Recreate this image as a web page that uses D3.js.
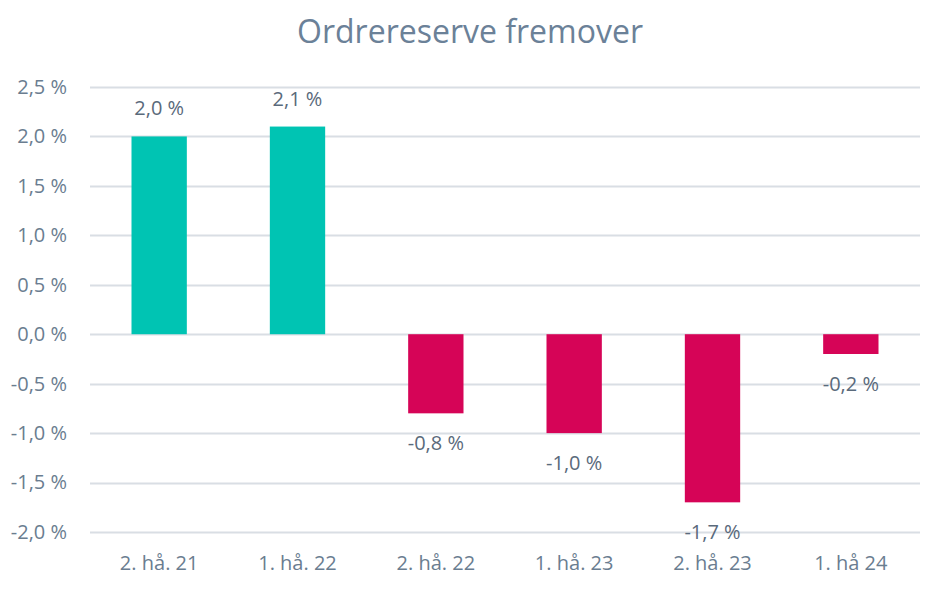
<!DOCTYPE html>
<html>
<head>
<meta charset="utf-8">
<script src="https://cdn.jsdelivr.net/npm/d3@7"></script>
<style>
  body { margin: 0; background: #fff; }
  text { font-family: "Open Sans", "Noto Sans", sans-serif; }
</style>
</head>
<body>
<div id="chart"></div>
<script>
// Chart data
const categories = ["2. hå. 21", "1. hå. 22", "2. hå. 22", "1. hå. 23", "2. hå. 23", "1. hå 24"];
const values = [2.0, 2.1, -0.8, -1.0, -1.7, -0.2];
const yTicks = [-2.0, -1.5, -1.0, -0.5, 0.0, 0.5, 1.0, 1.5, 2.0, 2.5];

const width = 930, height = 595;
const margin = { top: 87, right: 10, bottom: 63, left: 90 };

const svg = d3.select("#chart")
    .append("svg")
    .attr("width", width)
    .attr("height", height);

const fmt = v => d3.format(".1f")(v).replace(".", ",").replace("−", "-") + " %";

const x = d3.scaleBand()
    .domain(categories)
    .range([margin.left, width - margin.right])
    .paddingInner(0.6)
    .paddingOuter(0.3);

const y = d3.scaleLinear()
    .domain([-2.0, 2.5])
    .range([height - margin.bottom, margin.top]);

// Title
svg.append("text")
    .attr("x", 470)
    .attr("y", 43)
    .attr("text-anchor", "middle")
    .style("font-size", "32px")
    .style("fill", "#6B8198")
    .text("Ordrereserve fremover");

// Gridlines
svg.append("g")
    .selectAll("line")
    .data(yTicks)
    .join("line")
    .attr("x1", margin.left)
    .attr("x2", width - margin.right)
    .attr("y1", d => Math.round(y(d)) + 0.5)
    .attr("y2", d => Math.round(y(d)) + 0.5)
    .attr("stroke", "#D9DEE4")
    .attr("stroke-width", 2);

// Y axis
const yAxis = d3.axisLeft(y).tickValues(yTicks).tickFormat(fmt).tickSize(0).tickPadding(23);
const yg = svg.append("g")
    .attr("transform", `translate(${margin.left},0)`)
    .call(yAxis);
yg.select(".domain").remove();
yg.selectAll("text")
    .style("font-size", "20px")
    .style("fill", "#6A7D90");

// X axis
const xAxis = d3.axisBottom(x).tickSize(0).tickPadding(24);
const xg = svg.append("g")
    .attr("transform", `translate(0,${y(-2.0)})`)
    .call(xAxis);
xg.select(".domain").remove();
xg.selectAll("text")
    .style("font-size", "20px")
    .style("fill", "#6A7D90");

// Bars
svg.append("g")
    .selectAll("rect")
    .data(values)
    .join("rect")
    .attr("x", (d, i) => x(categories[i]))
    .attr("width", x.bandwidth())
    .attr("y", d => y(Math.max(0, d)))
    .attr("height", d => Math.abs(y(d) - y(0)))
    .attr("fill", d => d >= 0 ? "#00C4B3" : "#D60457");

// Data labels
svg.append("g")
    .selectAll("text")
    .data(values)
    .join("text")
    .attr("x", (d, i) => x(categories[i]) + x.bandwidth() / 2)
    .attr("y", d => d >= 0 ? y(d) - 21 : y(d) + 37)
    .attr("text-anchor", "middle")
    .style("font-size", "20px")
    .style("fill", "#5A6A7B")
    .text(fmt);
</script>
</body>
</html>
